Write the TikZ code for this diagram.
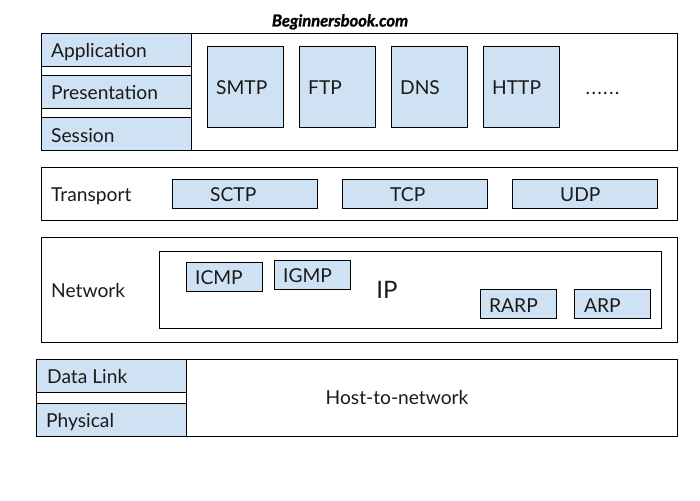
\documentclass[tikz,border=0pt]{standalone}
\usepackage{fontspec}
\setmainfont{Lato}
\newfontfamily\brand[UprightFont=* Bold Italic,FakeBold=1.2]{Lato}
\definecolor{fillblue}{HTML}{CFE2F3}
\definecolor{ink}{HTML}{1A1A1A}
\tikzset{x=1pt,y=-1pt,
 frame/.style={draw=black,line width=1pt,fill=white,anchor=north west,inner sep=0pt,outer sep=0pt},
 bluebox/.style={frame,fill=fillblue},
 divider/.style={draw=black,line width=1pt},
 lab/.style={text=ink,font=\fontsize{19.2}{21}\selectfont,anchor=base west,inner sep=0pt},
 clab/.style={text=ink,font=\fontsize{19.2}{21}\selectfont,anchor=base,inner sep=0pt}}
\newcommand{\bx}[6]{\node[#1,minimum width=#4pt,minimum height=#5pt] (#6) at (#2,#3) {};}
\begin{document}
\begin{tikzpicture}
\useasboundingbox (0,0) rectangle (700,500);
\bx{frame}{41.5}{33.5}{636}{117}{f1}
\bx{frame}{41.5}{167.5}{636}{53}{f2}
\bx{frame}{41.5}{237.5}{636}{105}{f3}
\bx{frame}{36.5}{359.5}{641}{77}{f4}
\bx{frame}{159.5}{251.5}{502}{77}{ipb}
\bx{bluebox}{41.5}{33.5}{150}{33}{b1}
\bx{bluebox}{41.5}{75.5}{150}{33}{b2}
\bx{bluebox}{41.5}{117.5}{150}{33}{b3}
\bx{bluebox}{207.5}{46.5}{76}{81}{b4}
\bx{bluebox}{299.5}{46.5}{76}{81}{b5}
\bx{bluebox}{391.5}{46.5}{76}{81}{b6}
\bx{bluebox}{483.5}{46.5}{76}{81}{b7}
\bx{bluebox}{172.5}{179.5}{145}{29}{b8}
\bx{bluebox}{342.5}{179.5}{145}{29}{b9}
\bx{bluebox}{512.5}{179.5}{145}{29}{b10}
\bx{bluebox}{186.5}{262.5}{76}{29}{b11}
\bx{bluebox}{274.5}{260.5}{76}{29}{b12}
\bx{bluebox}{480.5}{289.5}{76}{29}{b13}
\bx{bluebox}{574.5}{289.5}{76}{29}{b14}
\bx{bluebox}{36.5}{359.5}{150}{33}{b15}
\bx{bluebox}{36.5}{403.5}{150}{33}{b16}
\draw[divider] (b1.north east) -- (b3.south east);
\draw[divider] (b15.north east) -- (b16.south east);
\node[lab] at (51,57.5) {Application};
\node[lab] at (51,99.5) {Presentation};
\node[lab] at (51,142) {Session};
\node[lab] at (216,94.5) {SMTP};
\node[lab] at (308,94.5) {FTP};
\node[lab] at (400,94.5) {DNS};
\node[lab] at (492,94.5) {HTTP};
\node[lab] at (585.5,95) {.\kern1.3pt.\kern1.3pt.\kern1.3pt.\kern1.3pt.\kern1.3pt.};
\node[lab] at (51,201.5) {Transport};
\node[lab] at (210,201.5) {SCTP};
\node[lab] at (390,201.5) {TCP};
\node[lab] at (560,201.5) {UDP};
\node[lab] at (51,297.5) {Network};
\node[lab] at (195,284.5) {ICMP};
\node[lab] at (283,282.5) {IGMP};
\node[clab,font=\fontsize{24}{26}\selectfont] at (387,298.5) {IP};
\node[lab] at (489,312.5) {RARP};
\node[lab] at (584,312.5) {ARP};
\node[lab] at (47,383.5) {Data Link};
\node[lab] at (46,427.5) {Physical};
\node[clab] at (397,404.5) {Host-to-network};
\node[clab,font=\brand\fontsize{16.5}{18}\selectfont,text=black] at (340,26.5) {Beginnersbook.com};
\end{tikzpicture}
\end{document}
